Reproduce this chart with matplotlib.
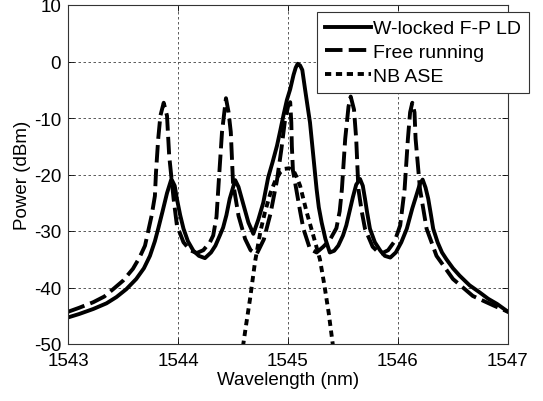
import matplotlib
matplotlib.use("Agg")
import matplotlib.pyplot as plt

# W-locked F-P LD (solid)
wl_locked = [1543.0, 1543.1, 1543.23, 1543.35, 1543.44, 1543.53, 1543.62, 1543.69, 1543.745, 1543.79,
             1543.82, 1543.86, 1543.9, 1543.94, 1543.97, 1543.99, 1544.02, 1544.05, 1544.09, 1544.14,
             1544.19, 1544.245, 1544.3, 1544.34, 1544.38, 1544.41, 1544.44, 1544.47, 1544.52, 1544.55,
             1544.58, 1544.61, 1544.64, 1544.685, 1544.73, 1544.775, 1544.82, 1544.86, 1544.9, 1544.93,
             1544.96, 1544.99, 1545.02, 1545.05, 1545.07, 1545.088, 1545.11, 1545.13, 1545.155, 1545.18,
             1545.2, 1545.23, 1545.26, 1545.28, 1545.306, 1545.34, 1545.38, 1545.42, 1545.457, 1545.5,
             1545.53, 1545.56, 1545.59, 1545.62, 1545.655, 1545.68, 1545.7, 1545.72, 1545.745, 1545.79,
             1545.84, 1545.88, 1545.93, 1545.98, 1546.03, 1546.08, 1546.13, 1546.17, 1546.2, 1546.224,
             1546.25, 1546.275, 1546.3, 1546.32, 1546.36, 1546.4, 1546.44, 1546.5, 1546.56, 1546.65,
             1546.745, 1546.82, 1546.9, 1547.0]
pw_locked = [-45.3, -44.7, -43.8, -42.8, -41.7, -40.3, -38.5, -36.6, -34.4, -31.8,
             -29.6, -26.5, -23.3, -20.8, -22.0, -24.3, -27.2, -29.6, -31.8, -33.5,
             -34.4, -34.8, -33.8, -32.6, -30.8, -29.4, -27.2, -24.3, -21.0, -22.2,
             -24.3, -26.4, -28.5, -30.5, -28.0, -25.0, -20.5, -17.8, -14.9, -12.2,
             -9.4, -6.8, -4.9, -2.4, -1.1, -0.4, -0.7, -1.5, -4.9, -8.2,
             -10.8, -16.7, -22.6, -25.8, -28.5, -31.4, -33.8, -33.5, -32.6, -30.8,
             -29.0, -26.5, -24.0, -21.8, -20.8, -22.0, -24.3, -26.8, -29.6, -32.0,
             -33.5, -34.4, -34.7, -33.8, -32.0, -29.6, -26.0, -23.5, -21.6, -20.9,
             -22.3, -24.3, -27.2, -29.6, -32.0, -33.8, -35.0, -36.6, -37.9, -39.6,
             -40.9, -42.0, -42.9, -44.3]

# Free running (long dash)
wl_free = [1543.0, 1543.1, 1543.23, 1543.33, 1543.41, 1543.5, 1543.59, 1543.65, 1543.7, 1543.76,
           1543.79, 1543.8, 1543.82, 1543.84, 1543.87, 1543.9, 1543.92, 1543.96, 1543.99, 1544.05,
           1544.11, 1544.17, 1544.23, 1544.29, 1544.32, 1544.35, 1544.37, 1544.4, 1544.436, 1544.46,
           1544.48, 1544.5, 1544.55, 1544.61, 1544.66, 1544.715, 1544.78, 1544.84, 1544.9, 1544.94,
           1544.97, 1545.0, 1545.02, 1545.03, 1545.035, 1545.045, 1545.075, 1545.11, 1545.14, 1545.2,
           1545.26, 1545.32, 1545.38, 1545.44, 1545.47, 1545.49, 1545.52, 1545.55, 1545.57, 1545.6,
           1545.62, 1545.64, 1545.67, 1545.7, 1545.77, 1545.84, 1545.91, 1545.97, 1546.02, 1546.06,
           1546.09, 1546.11, 1546.13, 1546.15, 1546.16, 1546.2, 1546.26, 1546.35, 1546.5, 1546.68,
           1546.87, 1547.0]
pw_free = [-44.3, -43.6, -42.6, -41.6, -40.3, -38.8, -36.7, -34.7, -32.6, -27.3,
           -23.8, -19.6, -13.7, -9.6, -7.3, -9.6, -16.7, -24.3, -29.0, -32.0,
           -33.4, -33.9, -33.4, -32.0, -30.8, -27.5, -21.4, -12.5, -6.5, -9.0,
           -12.5, -21.4, -27.3, -31.4, -33.4, -34.1, -31.5, -27.0, -21.0, -15.5,
           -10.8, -8.0, -7.2, -10.8, -15.0, -19.3, -22.6, -26.5, -29.6, -33.2,
           -33.8, -32.8, -31.6, -29.5, -26.5, -22.6, -13.7, -8.0, -6.2, -8.5,
           -13.7, -22.6, -26.5, -29.6, -32.8, -34.1, -33.4, -31.8, -29.0, -22.6,
           -13.7, -9.0, -7.3, -9.0, -13.7, -22.6, -29.6, -34.4, -38.5, -41.5,
           -43.2, -44.3]

# NB ASE (short dash)
wl_ase = [1544.59, 1544.62, 1544.655, 1544.7, 1544.75, 1544.79, 1544.84, 1544.88, 1544.93, 1544.97,
          1545.01, 1545.05, 1545.08, 1545.11, 1545.17, 1545.23, 1545.29, 1545.33, 1545.37, 1545.41]
pw_ase = [-50.5, -46.5, -42.0, -35.5, -30.0, -26.7, -23.3, -21.3, -19.6, -19.0,
          -18.9, -19.3, -20.5, -22.0, -26.7, -30.8, -35.0, -39.5, -44.5, -50.5]

x_ticks = [1543, 1544, 1545, 1546, 1547]
y_ticks = [-50, -40, -30, -20, -10, 0, 10]

plt.rcParams['font.family'] = ['Liberation Sans', 'DejaVu Sans']
plt.rcParams['axes.unicode_minus'] = False

fig = plt.figure(figsize=(5.43, 4.02), dpi=100)
ax = fig.add_axes([68 / 543, 1 - 345 / 402, 440 / 543, 339 / 402])

ax.plot(wl_locked, pw_locked, color='black', lw=2.8, label='W-locked F-P LD')
ax.plot(wl_free, pw_free, color='black', lw=2.8, dashes=(4.5, 1.6), label='Free running')
ax.plot(wl_ase, pw_ase, color='black', lw=2.8, dashes=(1.6, 1.2), label='NB ASE')

ax.set_xlim(1543, 1547)
ax.set_ylim(-50, 10)
ax.set_xticks(x_ticks)
ax.set_yticks(y_ticks)
ax.tick_params(direction='in', length=4, width=0.6, top=True, right=True, labelsize=13.5)
ax.tick_params(axis='x', pad=6)
ax.tick_params(axis='y', pad=5)
ax.grid(True, color='0.25', linestyle=(0, (3, 3)), linewidth=0.6)
for sp in ax.spines.values():
    sp.set_linewidth(0.8)
    sp.set_color('0.2')

ax.set_xlabel('Wavelength (nm)', fontsize=13.5, labelpad=1)
ax.set_ylabel('Power (dBm)', fontsize=13.5, labelpad=2)

leg = ax.legend(loc='upper left', bbox_to_anchor=(317 / 543, 1 - 13 / 402),
                bbox_transform=fig.transFigure, fontsize=14, handlelength=2.4,
                handletextpad=0.1, labelspacing=0.32, borderpad=0.4, borderaxespad=0,
                fancybox=False, framealpha=1, edgecolor='0.2')
leg.get_frame().set_linewidth(0.8)

fig.savefig('out.png', dpi=100)
